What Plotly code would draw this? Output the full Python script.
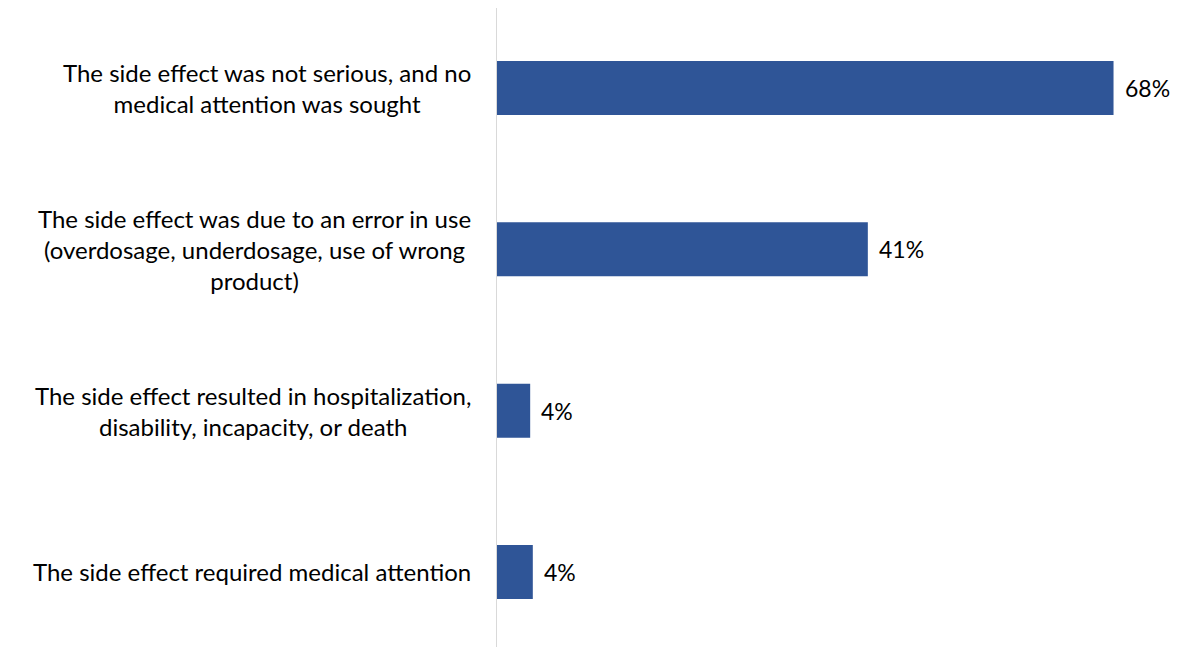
import plotly.graph_objects as go

categories = [
    "The side effect was not serious, and no<br>medical attention was sought",
    "The side effect was due to an error in use<br>(overdosage, underdosage, use of wrong<br>product)",
    "The side effect resulted in hospitalization,<br>disability, incapacity, or death",
    "The side effect required medical attention",
]
values = [68, 40.9, 3.66, 3.95]
labels = ["68%", "41%", "4%", "4%"]

BAR_COLOR = "#2F5597"
FONT = "Lato"

fig = go.Figure(
    go.Bar(
        x=values,
        y=categories,
        orientation="h",
        marker=dict(color=BAR_COLOR, line=dict(width=0)),
        width=0.335,
        hoverinfo="skip",
    )
)

# category labels, centered like the original wrapped labels
for cat in categories:
    fig.add_annotation(
        x=0, xref="paper", y=cat, yref="y",
        text=cat, showarrow=False, xanchor="right", align="center",
        xshift=-24, font=dict(family=FONT, size=24, color="#000000"),
    )

# value labels
for v, lab, cat in zip(values, labels, categories):
    fig.add_annotation(
        x=v, y=cat, text=lab, showarrow=False, xanchor="left",
        xshift=9, font=dict(family=FONT, size=23, color="#000000"),
    )

# the page body adds an 8px margin, so the figure is 8px smaller than the window
fig.update_layout(
    width=1171,
    height=639,
    margin=dict(l=489, r=2, t=0, b=0),
    plot_bgcolor="white",
    paper_bgcolor="white",
    showlegend=False,
    xaxis=dict(range=[0, 75], visible=False),
    yaxis=dict(
        type="category",
        range=[3.465, -0.496],
        showticklabels=False,
        showgrid=False,
        zeroline=False,
        showline=True,
        linecolor="#D9D9D9",
        linewidth=1,
        ticks="",
    ),
)

fig.write_html("out.html")
